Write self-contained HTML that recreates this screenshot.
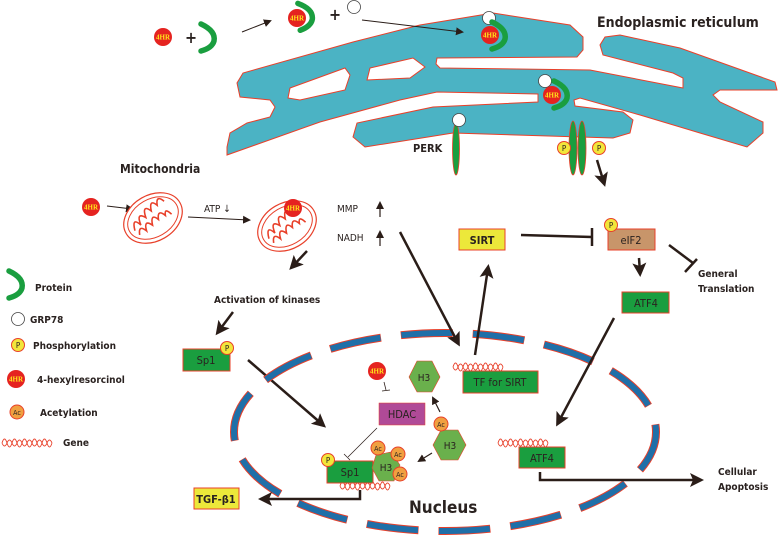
<!DOCTYPE html>
<html><head><meta charset="utf-8"><style>
html,body{margin:0;padding:0;background:#fff}
svg{display:block}
text{font-family:"DejaVu Sans Condensed","Liberation Sans",sans-serif;fill:#2a2220}
.b{font-weight:bold}
.hr{font-family:"Liberation Serif",serif;font-weight:bold;fill:#ffe81a;font-size:7px}
</style></head><body>
<svg width="778" height="536" viewBox="0 0 778 536" xmlns="http://www.w3.org/2000/svg">
<defs>
<marker id="ar" markerWidth="8" markerHeight="8" refX="6" refY="4" orient="auto" markerUnits="userSpaceOnUse"><path d="M0,0 L8,4 L0,8 z" fill="#2a1d18"/></marker>
<marker id="ar2" markerWidth="14" markerHeight="14" refX="10" refY="7" orient="auto" markerUnits="userSpaceOnUse"><path d="M0,0 L14,7 L0,14 L3,7 z" fill="#2a1d18"/></marker>
<g id="hr"><circle r="9" fill="#e52320"/><text class="hr" x="0" y="2.5" text-anchor="middle">4HR</text></g>
<g id="pp"><circle r="6.5" fill="#f2e63a" stroke="#e8402a" stroke-width="1"/><text x="0" y="3" text-anchor="middle" font-size="8">P</text></g>
<g id="ac"><circle r="7" fill="#f0a040" stroke="#e8402a" stroke-width="1"/><text x="0" y="3" text-anchor="middle" font-size="7">Ac</text></g>
<path id="prot" d="M-4,-13 Q11,-6 9,4 Q7,11 -4,14" fill="none" stroke="#1a9e3f" stroke-width="5.5" stroke-linecap="round"/>
<path id="gene" d="M0,0 q2.5,-8 5,0 t5,0 t5,0 t5,0 t5,0 t5,0 t5,0 t5,0 t5,0 t5,0 M0,0 q2.5,6 5,0 t5,0 t5,0 t5,0 t5,0 t5,0 t5,0 t5,0 t5,0 t5,0" fill="none" stroke="#e8402a" stroke-width="0.9"/>
<g id="mito"><ellipse rx="31" ry="23" fill="#fff" stroke="#e8402a" stroke-width="1.2"/><ellipse rx="27" ry="19" fill="none" stroke="#e8402a" stroke-width="1"/>
<path d="M-22,2 q4,-14 8,-2 q2,-14 8,-4 q3,-14 8,-3 q4,-12 8,-2 q4,-10 8,0 M-20,8 q4,-10 8,0 q3,-12 8,-2 q4,-12 8,-2 q4,-10 8,0 q3,-8 6,2" fill="none" stroke="#e8402a" stroke-width="1.6"/></g>
</defs>

<!-- ER -->
<path fill-rule="evenodd" fill="#4bb3c4" stroke="#e8402a" stroke-width="1" d="M227,155 L227,147 L230,133 L247,123 L270,117 L275,107 L270,100 L240,97 L237,83 L243,73 L353,42 L420,25 L493,13 L570,25 L583,37 L583,50 L577,57 L437,58 L436,64 L440,68 L590,70 L683,88 L683,78 L673,73 L603,55 L600,45 L605,37 L620,35 L680,48 L775,82 L777,90 L720,90 L713,95 L720,102 L763,122 L763,133 L747,147 L700,133 L640,115 L580,98 L574,100 L575,106 L623,112 L633,120 L630,133 L613,138 L453,133 L365,147 L353,137 L357,123 L433,107 L538,102 L538,94 L437,92 L400,100 L320,122 Z
M288,98 L290,88 L345,68 L350,75 L345,90 L300,100 Z M367,80 L370,68 L413,58 L425,67 L410,78 Z"/>

<!-- top binding -->
<use href="#hr" x="163" y="37"/>
<text x="185" y="43" font-size="16" class="b">+</text>
<use href="#prot" x="205" y="37"/>
<line x1="242" y1="32" x2="270" y2="21" stroke="#2a1d18" stroke-width="1" marker-end="url(#ar)"/>
<use href="#hr" x="297" y="18"/>
<use href="#prot" x="303" y="16" transform="rotate(-5 303 16)"/>
<text x="329" y="20" font-size="16" class="b">+</text>
<circle cx="354" cy="7" r="6.5" fill="#fff" stroke="#444" stroke-width="0.8"/>
<line x1="362" y1="20" x2="462" y2="32" stroke="#2a1d18" stroke-width="1" marker-end="url(#ar)"/>
<circle cx="489" cy="18" r="6.5" fill="#fff" stroke="#444" stroke-width="0.8"/>
<use href="#hr" x="490" y="35"/>
<use href="#prot" x="496" y="35"/>
<circle cx="545" cy="81" r="6.5" fill="#fff" stroke="#444" stroke-width="0.8"/>
<use href="#hr" x="552" y="95"/>
<use href="#prot" x="558" y="94"/>
<text x="597" y="27" font-size="14" class="b">Endoplasmic reticulum</text>

<!-- PERK -->
<text x="413" y="152" font-size="11" class="b">PERK</text>
<ellipse cx="456" cy="149" rx="3.5" ry="26" fill="#1a9e3f" stroke="#e8402a" stroke-width="0.8"/>
<circle cx="459" cy="120" r="6.5" fill="#fff" stroke="#444" stroke-width="0.8"/>
<ellipse cx="573" cy="148" rx="4" ry="27" fill="#1a9e3f" stroke="#e8402a" stroke-width="0.8"/>
<ellipse cx="582" cy="148" rx="4" ry="27" fill="#1a9e3f" stroke="#e8402a" stroke-width="0.8"/>
<use href="#pp" x="564" y="148"/><use href="#pp" x="599" y="148"/>
<line x1="597" y1="160" x2="604" y2="183" stroke="#2a1d18" stroke-width="2.5" marker-end="url(#ar2)"/>

<!-- Mitochondria -->
<text x="120" y="173" font-size="12" class="b">Mitochondria</text>
<use href="#hr" x="91" y="207"/>
<line x1="107" y1="206" x2="132" y2="209" stroke="#2a1d18" stroke-width="1" marker-end="url(#ar)"/>
<use href="#mito" transform="translate(153,218) rotate(-30)"/>
<text x="204" y="212" font-size="10">ATP ↓</text>
<line x1="188" y1="217" x2="249" y2="220" stroke="#2a1d18" stroke-width="1" marker-end="url(#ar)"/>
<use href="#mito" transform="translate(287,226) rotate(-30)"/>
<use href="#hr" x="293" y="208"/>
<text x="337" y="212" font-size="10">MMP</text>
<text x="337" y="241" font-size="10">NADH</text>
<line x1="380" y1="217" x2="380" y2="203" stroke="#2a1d18" stroke-width="1.2" marker-end="url(#ar)"/>
<line x1="380" y1="246" x2="380" y2="232" stroke="#2a1d18" stroke-width="1.2" marker-end="url(#ar)"/>
<line x1="307" y1="251" x2="292" y2="267" stroke="#2a1d18" stroke-width="2.5" marker-end="url(#ar2)"/>
<text x="214" y="303" font-size="10" class="b">Activation of kinases</text>
<line x1="233" y1="312" x2="218" y2="332" stroke="#2a1d18" stroke-width="2.5" marker-end="url(#ar2)"/>
<rect x="183" y="349" width="47" height="22" fill="#1a9e3f" stroke="#e8402a" stroke-width="1"/>
<text x="206" y="364" font-size="11" text-anchor="middle">Sp1</text>
<use href="#pp" x="227" y="348"/>
<line x1="248" y1="360" x2="323" y2="425" stroke="#2a1d18" stroke-width="2.5" marker-end="url(#ar2)"/>

<!-- Legend -->
<use href="#prot" x="13" y="284"/>
<text x="35" y="291" font-size="10" class="b">Protein</text>
<circle cx="18" cy="319" r="6.5" fill="#fff" stroke="#444" stroke-width="0.8"/>
<text x="30" y="323" font-size="10" class="b">GRP78</text>
<use href="#pp" x="18" y="345"/>
<text x="33" y="349" font-size="10" class="b">Phosphorylation</text>
<use href="#hr" x="16" y="379"/>
<text x="37" y="383" font-size="10" class="b">4-hexylresorcinol</text>
<use href="#ac" x="17" y="412"/>
<text x="40" y="416" font-size="10" class="b">Acetylation</text>
<use href="#gene" x="2" y="443"/>
<text x="63" y="446" font-size="10" class="b">Gene</text>

<!-- Nucleus -->
<ellipse cx="445" cy="432" rx="211" ry="99" fill="none" stroke="#e8402a" stroke-width="8" stroke-dasharray="52 20" stroke-dashoffset="10"/>
<ellipse cx="445" cy="432" rx="211" ry="99" fill="none" stroke="#1f6fa8" stroke-width="6" stroke-dasharray="51 21" stroke-dashoffset="9.5"/>
<text x="409" y="513" font-size="17" class="b">Nucleus</text>

<!-- SIRT etc -->
<line x1="400" y1="232" x2="458" y2="343" stroke="#2a1d18" stroke-width="2.5" marker-end="url(#ar2)"/>
<rect x="459" y="229" width="46" height="21" fill="#ece83a" stroke="#e8402a" stroke-width="1"/>
<text x="482" y="244" font-size="11" text-anchor="middle" class="b">SIRT</text>
<line x1="475" y1="355" x2="488" y2="268" stroke="#2a1d18" stroke-width="2.5" marker-end="url(#ar2)"/>
<line x1="521" y1="235" x2="592" y2="237" stroke="#2a1d18" stroke-width="2.5"/>
<line x1="592" y1="228" x2="592" y2="246" stroke="#2a1d18" stroke-width="2.5"/>
<rect x="608" y="229" width="47" height="21" fill="#c8956a" stroke="#e8402a" stroke-width="1"/>
<text x="631" y="244" font-size="11" text-anchor="middle">eIF2</text>
<use href="#pp" x="611" y="225"/>
<line x1="639" y1="258" x2="640" y2="273" stroke="#2a1d18" stroke-width="2.5" marker-end="url(#ar2)"/>
<line x1="669" y1="245" x2="693" y2="263" stroke="#2a1d18" stroke-width="2.5"/>
<line x1="685" y1="272" x2="697" y2="259" stroke="#2a1d18" stroke-width="2.5"/>
<text x="698" y="277" font-size="10" class="b">General</text>
<text x="698" y="292" font-size="10" class="b">Translation</text>
<rect x="622" y="292" width="47" height="21" fill="#1a9e3f" stroke="#e8402a" stroke-width="1"/>
<text x="646" y="307" font-size="11" text-anchor="middle">ATF4</text>
<line x1="614" y1="318" x2="558" y2="423" stroke="#2a1d18" stroke-width="2.5" marker-end="url(#ar2)"/>

<use href="#gene" x="453" y="367"/>
<rect x="463" y="371" width="75" height="22" fill="#1a9e3f" stroke="#e8402a" stroke-width="1"/>
<text x="500" y="386" font-size="11" text-anchor="middle">TF for SIRT</text>

<use href="#gene" x="498" y="443"/>
<rect x="519" y="447" width="46" height="21" fill="#1a9e3f" stroke="#e8402a" stroke-width="1"/>
<text x="542" y="462" font-size="11" text-anchor="middle">ATF4</text>
<polyline points="540,472 540,480 700,480" fill="none" stroke="#2a1d18" stroke-width="2.5" marker-end="url(#ar2)"/>
<text x="718" y="475" font-size="10" class="b">Cellular</text>
<text x="718" y="490" font-size="10" class="b">Apoptosis</text>

<!-- HDAC/H3 -->
<use href="#hr" x="377" y="371"/>
<line x1="384" y1="382" x2="386" y2="390" stroke="#2a1d18" stroke-width="0.8"/>
<line x1="382" y1="391" x2="390" y2="390" stroke="#2a1d18" stroke-width="0.8"/>
<rect x="379" y="403" width="46" height="22" fill="#b04a97" stroke="#e8402a" stroke-width="0.5"/>
<text x="402" y="418" font-size="11" text-anchor="middle">HDAC</text>
<polygon points="417,361 432,361 440,377 432,392 417,392 409,377" fill="#6ab04c" stroke="#e8402a" stroke-width="0.6"/>
<text x="424" y="381" font-size="10" text-anchor="middle">H3</text>
<line x1="440" y1="412" x2="433" y2="398" stroke="#2a1d18" stroke-width="1.2" marker-end="url(#ar)"/>
<polygon points="441,430 458,430 466,445 458,460 441,460 433,445" fill="#6ab04c" stroke="#e8402a" stroke-width="0.6"/>
<text x="450" y="449" font-size="10" text-anchor="middle">H3</text>
<use href="#ac" x="441" y="424"/>
<line x1="432" y1="453" x2="419" y2="461" stroke="#2a1d18" stroke-width="1.2" marker-end="url(#ar)"/>
<line x1="377" y1="428" x2="348" y2="457" stroke="#2a1d18" stroke-width="0.7"/>
<line x1="344" y1="454" x2="350" y2="460" stroke="#2a1d18" stroke-width="0.7"/>
<use href="#gene" x="340" y="486"/>
<rect x="327" y="461" width="46" height="22" fill="#1a9e3f" stroke="#e8402a" stroke-width="1"/>
<text x="350" y="476" font-size="11" text-anchor="middle">Sp1</text>
<use href="#pp" x="328" y="460"/>
<polygon points="376,455 391,452 400,465 394,481 379,481 372,468" fill="#6ab04c" stroke="#e8402a" stroke-width="0.6"/>
<text x="386" y="471" font-size="10" text-anchor="middle">H3</text>
<use href="#ac" x="378" y="448"/><use href="#ac" x="398" y="454"/><use href="#ac" x="400" y="474"/>
<polyline points="360,490 360,499 262,499" fill="none" stroke="#2a1d18" stroke-width="2.5" marker-end="url(#ar2)"/>
<rect x="194" y="488" width="45" height="21" fill="#ece83a" stroke="#e8402a" stroke-width="1"/>
<text x="216" y="503" font-size="11" text-anchor="middle" class="b">TGF-β1</text>
</svg>
</body></html>
